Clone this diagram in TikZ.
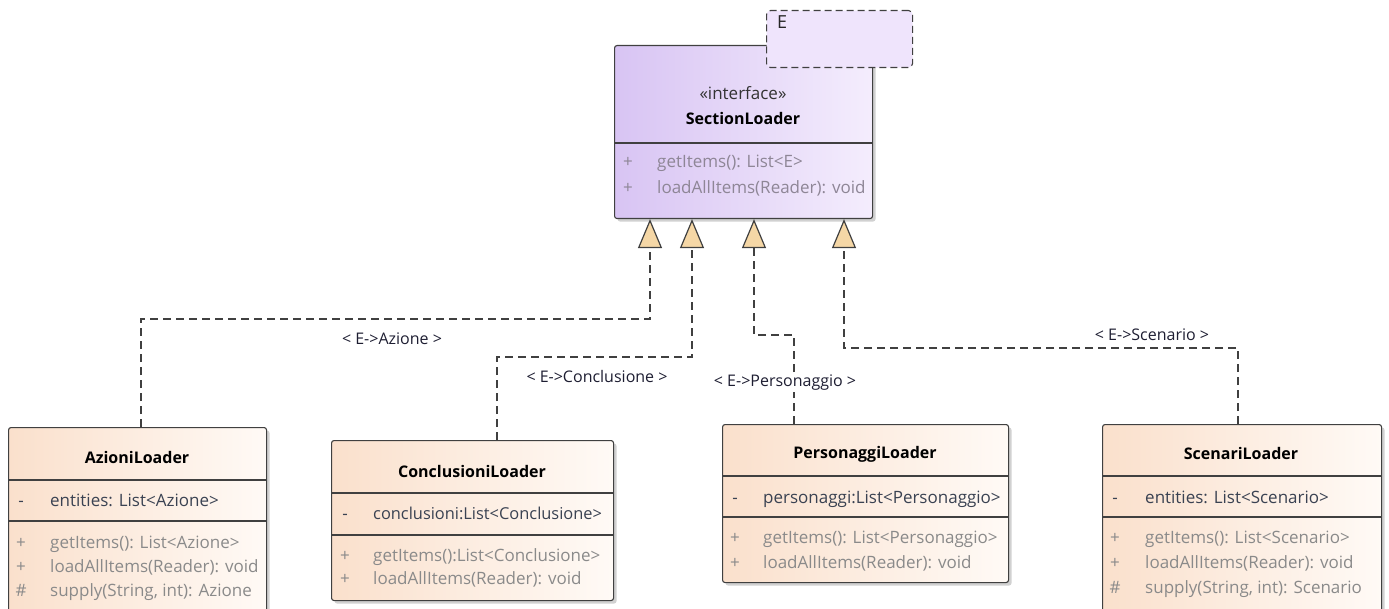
\documentclass[tikz,border=0pt]{standalone}
\usepackage{fontspec}
\setmainfont{Open Sans}
\usetikzlibrary{arrows.meta,shadows}
\definecolor{linec}{HTML}{404040}
\definecolor{ifL}{HTML}{D8C4F3}
\definecolor{ifR}{HTML}{F4EDFD}
\definecolor{tplC}{HTML}{EFE4FC}
\definecolor{clL}{HTML}{FAE0CC}
\definecolor{clR}{HTML}{FFFAF6}
\definecolor{triC}{HTML}{F5D7A6}
\definecolor{attrC}{HTML}{3A4252}
\definecolor{opC}{HTML}{8A8A8A}
\definecolor{ifopC}{HTML}{8E8696}
\definecolor{lblC}{HTML}{1E1E32}
\begin{document}
\begin{tikzpicture}[x=1pt,y=-1pt,
  box/.style={draw=linec, line width=1.1pt, rounded corners=2.5pt, anchor=north west, inner sep=0pt,
    drop shadow={shadow xshift=3pt, shadow yshift=-3pt, opacity=0.18, fill=black}},
  ifbox/.style={box, left color=ifL, right color=ifR},
  clbox/.style={box, left color=clL, right color=clR},
  tplbox/.style={draw=linec, line width=1.1pt, dash pattern=on 7pt off 4pt, rounded corners=4pt, fill=tplC, anchor=north west, inner sep=0pt},
  divider/.style={draw=linec, line width=1.1pt},
  txt/.style={anchor=mid west, inner sep=0pt, yshift=-4pt, font=\fontsize{17}{20}\selectfont},
  sym/.style={anchor=mid, inner sep=0pt, yshift=-4pt, font=\fontsize{17}{20}\selectfont},
  attr/.style={txt, text=attrC},
  op/.style={txt, text=opC},
  symA/.style={sym, text=attrC},
  symO/.style={sym, text=opC},
  cname/.style={anchor=mid, inner sep=0pt, yshift=-4pt, font=\fontsize{16}{19}\selectfont\bfseries, text=black},
  lbl/.style={anchor=mid, inner sep=1.5pt, yshift=-4pt, font=\fontsize{16}{19}\selectfont, text=lblC},
  dep/.style={draw=linec, line width=1.2pt, dash pattern=on 8pt off 5pt,
    -{Triangle[length=29pt,width=24pt,fill=triC]}}
]
\useasboundingbox (0,0) rectangle (1389,609);
\clip (0,0) rectangle (1389,609);

% Interface
\node[ifbox, minimum width=258pt, minimum height=173pt] (sl) at (614,45) {};
\draw[divider] (614,143) -- (872,143);
\node[sym, text=black!80] (st) at (743,93) {«interface»};
\node[cname] (sln) at (743,118) {SectionLoader};
\node[sym, text=ifopC] (s1) at (628,161) {+};
\node[txt, text=ifopC] (o1) at (657,161) {getItems(): List<E>};
\node[sym, text=ifopC] (s2) at (628,187) {+};
\node[txt, text=ifopC] (o2) at (657,187) {loadAllItems(Reader): void};

% Template parameter box
\node[tplbox, minimum width=146pt, minimum height=57pt] (tpl) at (766,10) {};
\node[txt, text=black!85, font=\fontsize{18}{20}\selectfont] (tE) at (777,22) {E};

% AzioniLoader
\node[clbox, minimum width=258pt, minimum height=200pt] (az) at (8,427) {};
\node[cname] (azn) at (137,457) {AzioniLoader};
\draw[divider] (8,480) -- (266,480);
\node[symA] at (21,500) {-};
\node[attr] at (50,500) {entities: List<Azione>};
\draw[divider] (8,521) -- (266,521);
\node[symO] at (21,542) {+};
\node[op] at (50,542) {getItems(): List<Azione>};
\node[symO] at (21,566) {+};
\node[op] at (50,566) {loadAllItems(Reader): void};
\node[symO] at (21,590) {\#};
\node[op] at (50,590) {supply(String, int): Azione};

% ConclusioniLoader
\node[clbox, minimum width=282pt, minimum height=160pt] (co) at (331,440) {};
\node[cname] (con) at (472,471) {ConclusioniLoader};
\draw[divider] (331,493) -- (613,493);
\node[symA] at (345,513) {-};
\node[attr, font=\fontsize{16.4}{20}\selectfont] at (373,513) {conclusioni:List<Conclusione>};
\draw[divider] (331,535) -- (613,535);
\node[symO] at (345,555) {+};
\node[op] at (373,555) {getItems():List<Conclusione>};
\node[symO] at (345,578) {+};
\node[op] at (373,578) {loadAllItems(Reader): void};

% PersonaggiLoader
\node[clbox, minimum width=286pt, minimum height=158pt] (pe) at (722,424) {};
\node[cname] (pen) at (865,452) {PersonaggiLoader};
\draw[divider] (722,476) -- (1008,476);
\node[symA] at (735,497) {-};
\node[attr] at (763,497) {personaggi:List<Personaggio>};
\draw[divider] (722,517) -- (1008,517);
\node[symO] at (735,537) {+};
\node[op] at (763,537) {getItems(): List<Personaggio>};
\node[symO] at (735,562) {+};
\node[op] at (763,562) {loadAllItems(Reader): void};

% ScenariLoader
\node[clbox, minimum width=279pt, minimum height=200pt] (sc) at (1102,424) {};
\node[cname] (scn) at (1241,453) {ScenariLoader};
\draw[divider] (1102,476) -- (1381,476);
\node[symA] at (1115,497) {-};
\node[attr] at (1145,497) {entities: List<Scenario>};
\draw[divider] (1102,517) -- (1381,517);
\node[symO] at (1115,537) {+};
\node[op] at (1145,537) {getItems(): List<Scenario>};
\node[symO] at (1115,562) {+};
\node[op] at (1145,562) {loadAllItems(Reader): void};
\node[symO] at (1115,587) {\#};
\node[op] at (1145,587) {supply(String, int): Scenario};

% connector bends
\coordinate (a1) at (141,319);
\coordinate (a2) at (650,319);
\coordinate (c1) at (497,357);
\coordinate (c2) at (692,357);
\coordinate (p1) at (794,335);
\coordinate (p2) at (754,335);
\coordinate (e1) at (1238,348);
\coordinate (e2) at (844,348);

\draw[dep] (a1 |- az.north) -- (a1) -- (a2) -- (a2 |- sl.south);
\draw[dep] (c1 |- co.north) -- (c1) -- (c2) -- (c2 |- sl.south);
\draw[dep] (p1 |- pe.north) -- (p1) -- (p2) -- (p2 |- sl.south);
\draw[dep] (e1 |- sc.north) -- (e1) -- (e2) -- (e2 |- sl.south);

% labels
\node[lbl] (la) at (392,338) {< E->Azione >};
\node[lbl] (lc) at (597,376) {< E->Conclusione >};
\node[lbl, fill=white] (lp) at (785,380) {< E->Personaggio >};
\node[lbl] (ls) at (1152,334) {< E->Scenario >};
\end{tikzpicture}
\end{document}
